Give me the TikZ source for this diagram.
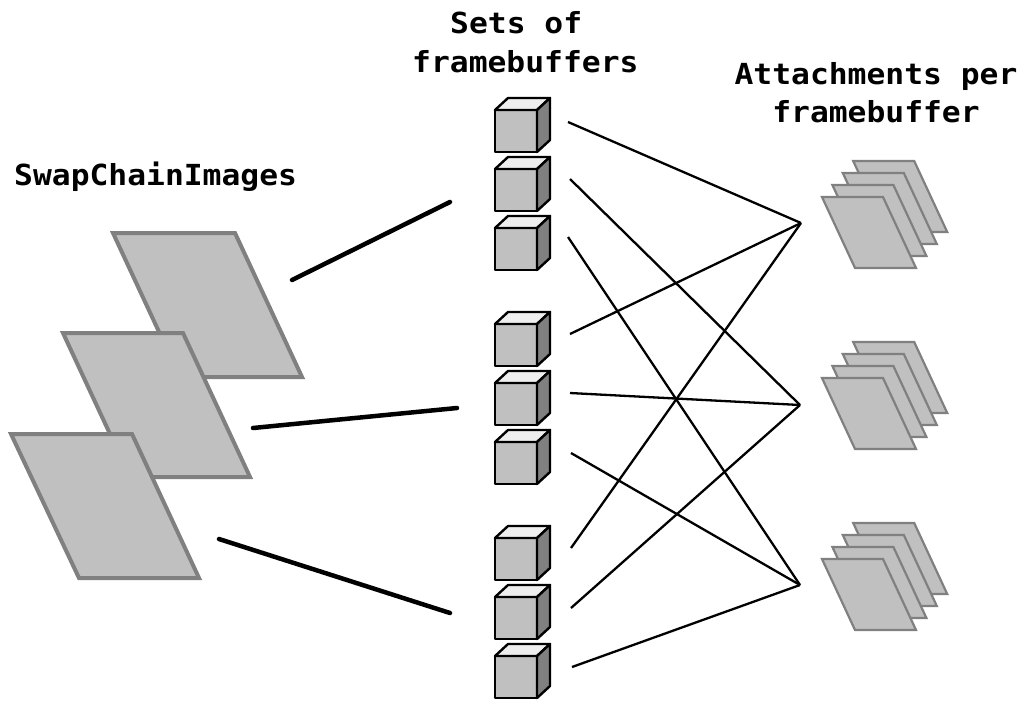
\documentclass[tikz,border=0pt]{standalone}
\usepackage{fontspec}
\newfontfamily\lblfont{DejaVu Sans Mono}[FakeStretch=1.08]
\definecolor{sheetfill}{HTML}{C0C0C0}
\definecolor{sheetedge}{HTML}{808080}
\definecolor{cubefront}{HTML}{C0C0C0}
\definecolor{cubetop}{HTML}{EEEEEE}
\definecolor{cubeside}{HTML}{808080}
\tikzset{
  lbl/.style={font=\lblfont\bfseries\fontsize{29}{34}\selectfont, inner sep=0pt, text=black},
  cubeline/.style={draw=black, line width=2.4pt, line join=round},
  bigsheet/.style={draw=sheetedge, fill=sheetfill, line width=4pt, line join=miter},
  smallsheet/.style={draw=sheetedge, fill=sheetfill, line width=2.2pt, line join=miter},
  thickconn/.style={draw=black, line width=4.5pt, line cap=round},
  thinconn/.style={draw=black, line width=2.3pt},
  cube/.pic={
    \draw[cubeline, fill=cubefront] (0,0) rectangle (42,42);
    \draw[cubeline, fill=cubetop] (0,0) -- (13,-12) -- (55,-12) -- (42,0) -- cycle;
    \draw[cubeline, fill=cubeside] (42,0) -- (55,-12) -- (55,30) -- (42,42) -- cycle;
  },
  sheet/.pic={
    \draw[smallsheet] (0,0) -- (61,0) -- (94,71) -- (33,71) -- cycle;
  },
  attstack/.pic={
    \pic at (31.2,-36) {sheet};
    \pic at (20.8,-24) {sheet};
    \pic at (10.4,-12) {sheet};
    \pic at (0,0) {sheet};
  }
}
\begin{document}
\begin{tikzpicture}[x=1pt, y=-1pt]
\useasboundingbox (0,0) rectangle (1027,710);

% titles
\node[lbl, anchor=base west] (t1a) at (450,33) {Sets of};
\node[lbl, anchor=base west] (t1b) at (412,72) {framebuffers};
\node[lbl, anchor=base] (t2a) at (876,84) {Attachments per};
\node[lbl, anchor=base] (t2b) at (876,122) {framebuffer};
\node[lbl, anchor=base west] (t3) at (14,185.5) {SwapChainImages};

% swapchain images
\draw[bigsheet] (113,233) -- (235,233) -- (302,377) -- (180,377) -- cycle;
\draw[bigsheet] (63,333) -- (183,333) -- (250,477) -- (130,477) -- cycle;
\draw[bigsheet] (11,434) -- (132,434) -- (199,578) -- (79,578) -- cycle;

% thick connectors
\coordinate (s1) at (292,280);
\coordinate (s2) at (253,428);
\coordinate (s3) at (219,539);
\coordinate (g1) at (450,202);
\coordinate (g2) at (457,408);
\coordinate (g3) at (450,613);
\draw[thickconn] (s1) -- (g1);
\draw[thickconn] (s2) -- (g2);
\draw[thickconn] (s3) -- (g3);

% cubes
\foreach \n/\yy in {1/110,2/169,3/228,4/324,5/383,6/442,7/538,8/597,9/656}{
  \pic (c\n) at (495,\yy) {cube};
}

% attachment stacks
\pic (at1) at (822,197) {attstack};
\pic (at2) at (822,378) {attstack};
\pic (at3) at (822,559) {attstack};

% connector points
\coordinate (f1) at (568,122);
\coordinate (f2) at (570,179);
\coordinate (f3) at (568,237);
\coordinate (f4) at (570,334);
\coordinate (f5) at (570,393);
\coordinate (f6) at (571,453);
\coordinate (f7) at (571,548);
\coordinate (f8) at (571,608);
\coordinate (f9) at (572,667);
\coordinate (a1) at (801,223);
\coordinate (a2) at (800,405);
\coordinate (a3) at (800,585);

\draw[thinconn] (f1) -- (a1);
\draw[thinconn] (f2) -- (a2);
\draw[thinconn] (f3) -- (a3);
\draw[thinconn] (f4) -- (a1);
\draw[thinconn] (f5) -- (a2);
\draw[thinconn] (f6) -- (a3);
\draw[thinconn] (f7) -- (a1);
\draw[thinconn] (f8) -- (a2);
\draw[thinconn] (f9) -- (a3);
\end{tikzpicture}
\end{document}
